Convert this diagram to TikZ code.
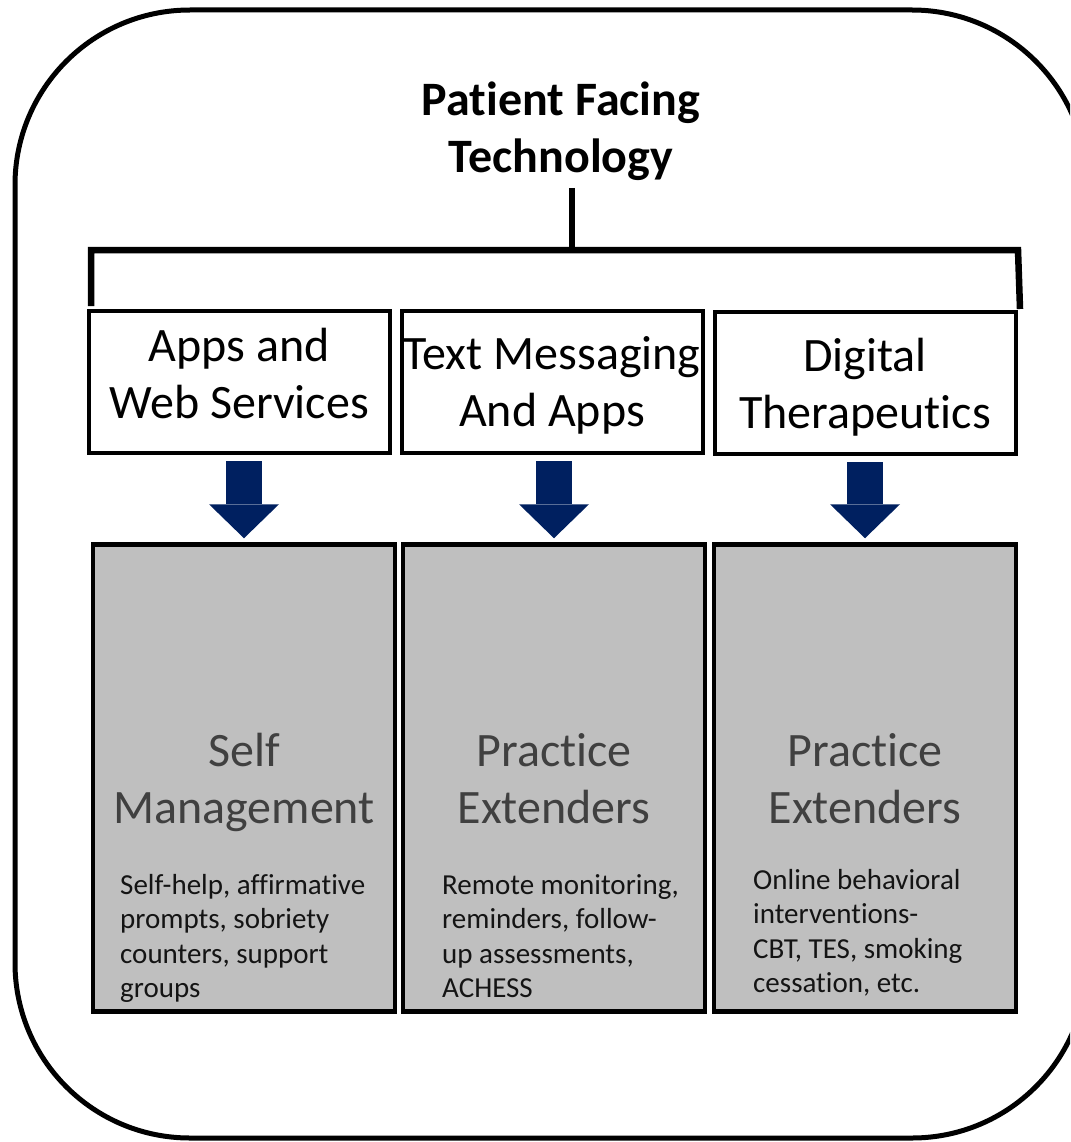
\documentclass[tikz,border=0pt]{standalone}
\usepackage{fontspec}
\setmainfont{Carlito}[Ligatures=NoCommon]
\usetikzlibrary{arrows.meta,positioning}
\definecolor{navy}{HTML}{002060}
\definecolor{boxgray}{HTML}{BFBFBF}
\definecolor{darkgray}{HTML}{404040}

\begin{document}
\begin{tikzpicture}[
    x=1pt, y=-1pt,
    frame/.style={line width=5pt, rounded corners=175pt},
    brace/.style={line width=6.5pt},
    source/.style={rectangle, draw, line width=4pt, fill=white, minimum width=301pt, minimum height=142pt,
      align=center, font=\fontsize{48}{57}\selectfont, inner sep=0pt, text height=92pt},
    target/.style={rectangle, draw, line width=4.5pt, fill=boxgray, minimum width=302pt, minimum height=467pt,
      align=center, text=darkgray, font=\fontsize{48}{57}\selectfont, inner sep=0pt, text height=90pt, text depth=0pt},
    detail/.style={anchor=north west, align=left, text=black!92, font=\fontsize{29}{34.5}\selectfont, inner sep=0pt},
    down/.style={-{Triangle[width=70pt,length=34pt,line width=0pt]}, line width=36pt, navy, shorten <=6pt, shorten >=4pt}
  ]
    \useasboundingbox (0,0) rectangle (1070,1142);
    \clip (0,0) rectangle (1070,1142);

    % outer frame, runs past the right edge
    \draw[frame] (15,10) rectangle (1087,1138);

    \node[font=\bfseries\fontsize{48}{57}\selectfont, align=center] (title) at (561,131) {Patient Facing\\Technology};

    % bracket under the title
    \coordinate (stem) at (572,188);
    \coordinate (join) at (572,250);
    \draw[brace] (stem) -- (join);
    \draw[brace] (91,306) -- (91,250) -- (1018,250) -- (1020,309);

    \node[source, text depth=20pt] (apps) at (239,382) {Apps and\\Web Services};
    \node[source, text depth=4pt]  (text) at (552,382) {Text Messaging\\And Apps};
    \node[source, text depth=1pt]  (dtx)  at (865,383) {Digital\\Therapeutics};

    \node[target] (self) at (244,778) {Self\\Management};
    \node[target] (ext)  at (554,778) {Practice\\Extenders};
    \node[target] (ext2) at (865,778) {Practice\\Extenders};

    \node[detail] (selfnote) at (120,874) {Self-help, affirmative\\prompts, sobriety\\counters, support\\groups};
    \node[detail] (extnote)  at (442,874) {Remote monitoring,\\reminders, follow-\\up assessments,\\ACHESS};
    \node[detail] (ext2note) at (753,869) {Online behavioral\\interventions-\\CBT, TES, smoking\\cessation, etc.};

    \draw[down] (self.north |- apps.south) -- (self.north);
    \draw[down] (ext.north |- text.south) -- (ext.north);
    \draw[down] (ext2.north |- dtx.south) -- (ext2.north);
  \end{tikzpicture}
\end{document}
